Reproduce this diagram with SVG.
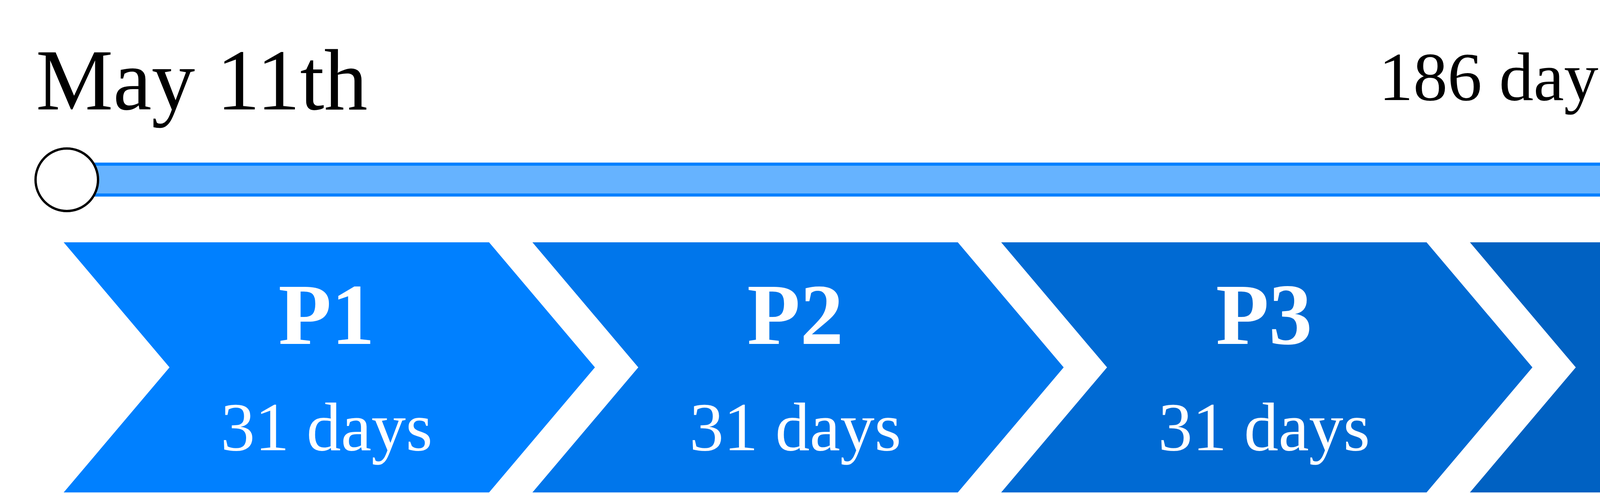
<svg xmlns="http://www.w3.org/2000/svg" width="7600" height="1264" viewBox="0 0 7600 1264">
<style>
text{font-family:"Liberation Serif","Times New Roman",serif}
.date{font-size:222px;fill:#000}
.dur{font-size:176px;fill:#000}
.pt{font-size:222px;font-weight:bold;fill:#fff;text-anchor:middle}
.pd{font-size:176px;fill:#fff;text-anchor:middle}
.end{fill:#fff;stroke:#000;stroke-width:6}
</style>
<rect width="7600" height="1264" fill="#fff"/>
<g id="timeline">
<rect x="171" y="420" width="7342" height="79" fill="#66B3FF" stroke="#0080FF" stroke-width="8"/>
<circle class="end" cx="171" cy="460" r="80"/>
<circle class="end" cx="7513" cy="460" r="80"/>
<text class="date" x="92" y="280">May 11th</text>
<text class="date" x="7576" y="280" text-anchor="end">November 12th</text>
<text class="dur" x="3845" y="256" text-anchor="middle">186 days</text>
</g>
<g id="p1">
<polygon points="163,620 1252,620 1523,940 1252,1260 163,1260 434,940" fill="#0080FF"/>
<text class="pt" x="836" y="880">P1</text>
<text class="pd" x="836" y="1152">31 days</text>
</g>
<g id="p2">
<polygon points="1363,620 2452,620 2723,940 2452,1260 1363,1260 1634,940" fill="#0076EB"/>
<text class="pt" x="2036" y="880">P2</text>
<text class="pd" x="2036" y="1152">31 days</text>
</g>
<g id="p3">
<polygon points="2563,620 3652,620 3923,940 3652,1260 2563,1260 2834,940" fill="#006AD3"/>
<text class="pt" x="3236" y="880">P3</text>
<text class="pd" x="3236" y="1152">31 days</text>
</g>
<g id="p4">
<polygon points="3763,620 4852,620 5123,940 4852,1260 3763,1260 4034,940" fill="#0061C2"/>
<text class="pt" x="4436" y="880">P4</text>
<text class="pd" x="4436" y="1152">31 days</text>
</g>
<g id="p5">
<polygon points="4963,620 6052,620 6323,940 6052,1260 4963,1260 5234,940" fill="#0056AD"/>
<text class="pt" x="5636" y="880">P5</text>
<text class="pd" x="5636" y="1152">31 days</text>
</g>
<g id="p6">
<polygon points="6163,620 7252,620 7523,940 7252,1260 6163,1260 6434,940" fill="#004C99"/>
<text class="pt" x="6836" y="880">P6</text>
<text class="pd" x="6836" y="1152">31 days</text>
</g>
</svg>
